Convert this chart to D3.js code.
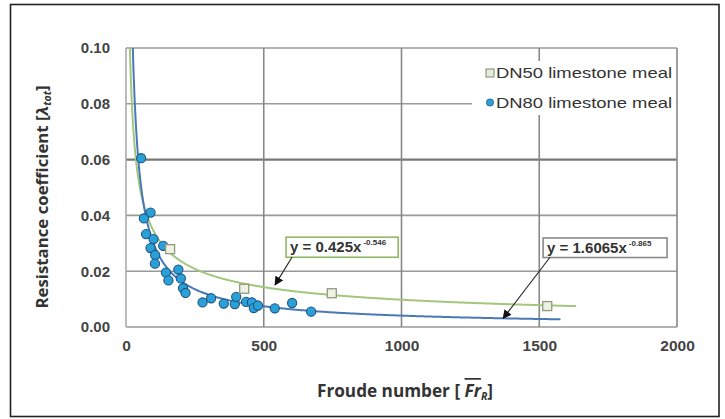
<!DOCTYPE html>
<html><head><meta charset="utf-8">
<script src="https://cdn.jsdelivr.net/npm/d3@7"></script>
<style>body{margin:0;background:#fff}svg{display:block}</style>
</head><body><svg id="c" width="725" height="419"></svg>
<script>
// ---- data ----
const dn50X = [160, 429, 747, 1529];
const dn50Y = [0.0279, 0.0137, 0.0121, 0.0075];
const dn80X = [55, 89, 65, 73, 100, 89, 106, 105, 135, 145, 154, 190, 199, 207, 216, 278, 309, 355, 395, 400, 436, 457, 464, 479, 540, 603, 672];
const dn80Y = [0.0605, 0.0410, 0.0389, 0.0333, 0.0315, 0.0283, 0.0258, 0.0227, 0.0291, 0.0195, 0.0167, 0.0206, 0.0174, 0.0139, 0.0122, 0.0088, 0.0103, 0.0084, 0.0082, 0.0108, 0.0090, 0.0088, 0.0068, 0.0077, 0.0067, 0.0086, 0.0055];
const xTicks = [0, 500, 1000, 1500, 2000];
const yTicks = [0, 0.02, 0.04, 0.06, 0.08, 0.10];
const seriesNames = ["DN50 limestone meal", "DN80 limestone meal"];
// power-law trendlines y = a * x^b (coefficients from the chart labels)
const trendA = [0.425, 1.6065];
const trendB = [-0.546, -0.865];
const trendXMin = [10, 20];
const trendXMax = [1634, 1577];
const trendCoef = ["0.425", "1.6065"];
const trendExp = ["-0.546", "-0.865"];

// ---- layout ----
const W = 725, H = 419;
const L = 126, R = 677, T = 48, B = 327;
const svg = d3.select("#c");
const x = d3.scaleLinear().domain([0, 2000]).range([L, R]);
const y = d3.scaleLinear().domain([0, 0.10]).range([B, T]);

svg.append("rect").attr("x", 0).attr("y", 0).attr("width", W).attr("height", H).attr("fill", "#fff");
svg.append("rect").attr("x", 10.5).attr("y", 4.5).attr("width", 708.5).attr("height", 412)
  .attr("fill", "none").attr("stroke", "#222").attr("stroke-width", 1.6);

svg.append("clipPath").attr("id", "pc").append("rect")
  .attr("x", L).attr("y", T).attr("width", R - L).attr("height", B - T);

// grid
const grid = svg.append("g");
grid.selectAll("line.h").data(yTicks).join("line")
  .attr("x1", L).attr("x2", R).attr("y1", d => y(d)).attr("y2", d => y(d))
  .attr("stroke", d => Math.abs(d - 0.06) < 1e-9 ? "#777" : "#999")
  .attr("stroke-width", d => Math.abs(d - 0.06) < 1e-9 ? 2.2 : 1.6);
grid.selectAll("line.v").data(xTicks).join("line")
  .attr("y1", T).attr("y2", B).attr("x1", d => x(d)).attr("x2", d => x(d))
  .attr("stroke", d => d === 0 ? "#aaa" : "#888").attr("stroke-width", 1.6);

// axes labels
const tickFont = "'Liberation Sans', Arial, sans-serif";
const yAxis = d3.axisLeft(y).tickValues(yTicks).tickFormat(d3.format(".2f")).tickSize(0).tickPadding(16);
const gy = svg.append("g").attr("transform", `translate(${L},0)`).call(yAxis);
gy.select(".domain").remove();
gy.selectAll("text").attr("font-family", tickFont).attr("font-size", 15).attr("font-weight", "bold").attr("fill", "#444");
const xAxis = d3.axisBottom(x).tickValues(xTicks).tickFormat(d3.format("d")).tickSize(0).tickPadding(13);
const gx = svg.append("g").attr("transform", `translate(0,${B})`).call(xAxis);
gx.select(".domain").remove();
gx.selectAll("text").attr("font-family", tickFont).attr("font-size", 15.5).attr("font-weight", "bold").attr("fill", "#444");

// axis titles
const titleFont = "'Open Sans', 'Noto Sans', sans-serif";
const yt = svg.append("text").attr("transform", "translate(48,197) rotate(-90)")
  .attr("text-anchor", "middle").attr("font-family", titleFont).attr("font-size", 16.8)
  .attr("font-weight", "bold").attr("fill", "#333");
yt.append("tspan").text("Resistance coefficient [");
yt.append("tspan").attr("font-style", "italic").text("λ");
yt.append("tspan").attr("font-style", "italic").attr("font-size", 10.5).attr("dy", 3).text("tot");
yt.append("tspan").attr("dy", -3).text("]");

const xt = svg.append("text").attr("x", 405).attr("y", 397)
  .attr("text-anchor", "middle").attr("font-family", titleFont).attr("font-size", 17.2)
  .attr("font-weight", "bold").attr("fill", "#333");
xt.append("tspan").text("Froude number [ ");
xt.append("tspan").attr("font-style", "italic").style("text-decoration", "overline").text("Fr");
xt.append("tspan").attr("font-style", "italic").attr("font-size", 10.5).attr("dy", 3).text("R");
xt.append("tspan").attr("dy", -3).text("]");

// trendlines
const curveColors = ["#a3c77c", "#4a79b8"];
const pg = svg.append("g").attr("clip-path", "url(#pc)");
const line = d3.line().x(d => x(d[0])).y(d => y(d[1])).curve(d3.curveLinear);
[0, 1].forEach(i => {
  const xs = [];
  for (let v = trendXMin[i]; v <= trendXMax[i]; v += (v < 200 ? 0.5 : 5)) xs.push(v);
  xs.push(trendXMax[i]);
  pg.append("path").datum(xs.map(v => [v, trendA[i] * Math.pow(v, trendB[i])]))
    .attr("d", line).attr("fill", "none").attr("stroke", curveColors[i]).attr("stroke-width", 2);
});

// points
pg.selectAll("circle.p80").data(dn80X.map((v, i) => [v, dn80Y[i]])).join("circle")
  .attr("cx", d => x(d[0])).attr("cy", d => y(d[1])).attr("r", 4.6)
  .attr("fill", "#2aa0d8").attr("stroke", "#1d5680").attr("stroke-width", 1.1);
pg.selectAll("rect.p50").data(dn50X.map((v, i) => [v, dn50Y[i]])).join("rect")
  .attr("x", d => x(d[0]) - 4.5).attr("y", d => y(d[1]) - 4.5).attr("width", 9).attr("height", 9)
  .attr("fill", "#eef2e6").attr("stroke", "#8f9c7c").attr("stroke-width", 1.3);

// legend
const lg = svg.append("g");
lg.append("rect").attr("x", 472).attr("y", 61).attr("width", R - 472 - 1).attr("height", 54).attr("fill", "#fff");
lg.append("rect").attr("x", 486).attr("y", 69).attr("width", 8).attr("height", 8)
  .attr("fill", "#e6ecdc").attr("stroke", "#909c80").attr("stroke-width", 1.2);
lg.append("circle").attr("cx", 490).attr("cy", 102.5).attr("r", 3.6)
  .attr("fill", "#2aa0d8").attr("stroke", "#1d5680").attr("stroke-width", 0.8);
seriesNames.forEach((s, i) => {
  lg.append("text").attr("x", 496).attr("y", 78 + i * 30).text(s)
    .attr("font-family", "'Liberation Sans', Arial, sans-serif").attr("font-size", 15)
    .attr("fill", "#333").attr("textLength", 176).attr("lengthAdjust", "spacingAndGlyphs");
});

// trendline labels with arrows
svg.append("defs").append("marker").attr("id", "ah").attr("viewBox", "0 0 10 10")
  .attr("refX", 9).attr("refY", 5).attr("markerWidth", 9).attr("markerHeight", 9)
  .attr("markerUnits", "userSpaceOnUse").attr("orient", "auto")
  .append("path").attr("d", "M0,0L10,5L0,10Z").attr("fill", "#111");

const ann = [
  {box: [581, 0.0322, 988, 0.0250], from: [603, 0.0251], to: [541, 0.0151], border: "#93b862"},
  {box: [1514, 0.0319, 1964, 0.0249], from: [1539, 0.0250], to: [1369, 0.0031], border: "#8a8a8a"}
];
ann.forEach((a, i) => {
  svg.append("rect").attr("x", x(a.box[0])).attr("y", y(a.box[1]))
    .attr("width", x(a.box[2]) - x(a.box[0])).attr("height", y(a.box[3]) - y(a.box[1]))
    .attr("fill", "#fff").attr("stroke", a.border).attr("stroke-width", 1.6);
  const t = svg.append("text").attr("x", x(a.box[0]) + 4).attr("y", y(a.box[3]) - 5)
    .attr("font-family", "'Liberation Sans', Arial, sans-serif").attr("font-weight", "bold")
    .attr("font-size", 15).attr("fill", "#333");
  t.append("tspan").text("y = " + trendCoef[i] + "x");
  t.append("tspan").attr("font-size", 8).attr("dy", -7).attr("dx", 2).text(trendExp[i]);
  svg.append("line").attr("x1", x(a.from[0])).attr("y1", y(a.from[1]))
    .attr("x2", x(a.to[0])).attr("y2", y(a.to[1]))
    .attr("stroke", "#222").attr("stroke-width", 1.1).attr("marker-end", "url(#ah)");
});
</script></body></html>
